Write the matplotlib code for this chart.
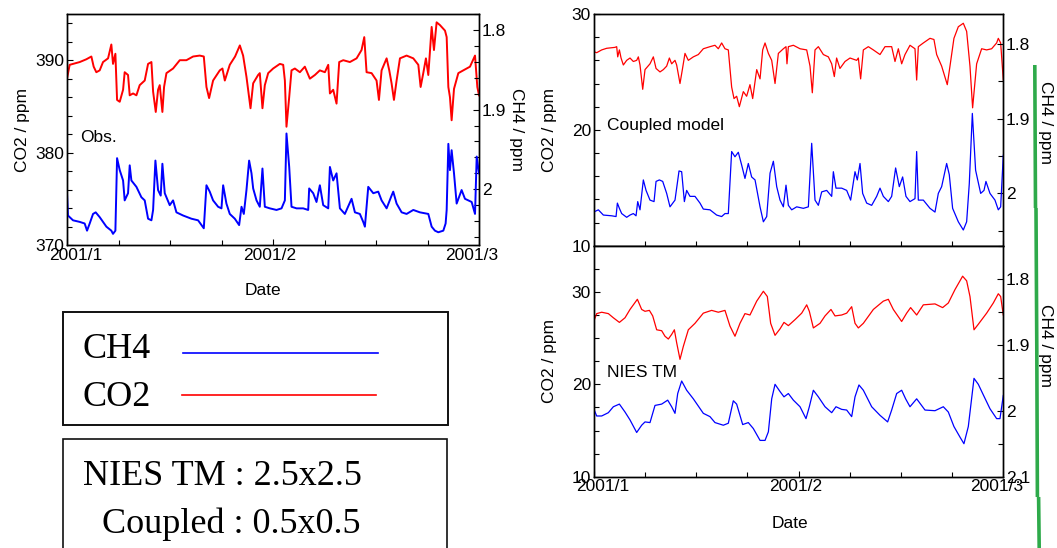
import matplotlib
matplotlib.use("Agg")
import matplotlib.pyplot as plt
import numpy as np
from matplotlib.lines import Line2D
from matplotlib.patches import Rectangle
from matplotlib.ticker import FixedLocator, FormatStrFormatter, MultipleLocator
from matplotlib.transforms import ScaledTranslation

plt.rcParams["font.family"] = ["Liberation Sans", "DejaVu Sans"]

# days since 2001/1/1 (axis runs 0..59)
obs_co2_day = [0.0, 0.38, 1.82, 2.77, 3.49, 3.82, 4.20, 4.68, 5.16, 5.88,
               6.35, 6.59, 6.93, 7.17, 7.55, 8.03, 8.26, 8.74, 8.98, 9.46,
               9.94, 10.41, 11.13, 11.61, 12.09, 12.33, 12.71, 13.04, 13.28, 13.66,
               13.90, 14.24, 15.19, 16.15, 17.10, 18.06, 19.01, 19.59, 19.97, 20.35,
               20.92, 21.88, 22.26, 22.60, 23.31, 24.07, 24.75, 25.22, 25.70, 26.28,
               26.66, 27.37, 27.61, 27.99, 28.33, 28.81, 29.52, 30.48, 30.96, 31.20,
               31.43, 31.82, 32.15, 32.63, 33.35, 34.06, 34.78, 35.50, 36.21, 36.93,
               37.41, 37.65, 38.12, 38.60, 38.98, 39.56, 40.51, 41.47, 42.18, 42.57,
               42.90, 43.62, 44.33, 44.67, 45.05, 45.77, 46.15, 46.48, 46.82, 47.20,
               47.68, 48.63, 49.59, 50.31, 50.64, 51.02, 51.40, 51.74, 52.22, 52.55,
               52.93, 53.41, 54.13, 54.37, 54.61, 54.84, 55.08, 55.42, 56.04, 56.75,
               57.71, 58.43, 58.76, 59.0]
obs_co2 = [388.0, 389.5, 389.8, 390.1, 390.4, 389.3, 388.7, 388.9, 389.8, 390.2,
           391.7, 389.6, 390.7, 385.7, 385.5, 386.8, 388.7, 388.4, 386.2, 386.4,
           386.2, 387.3, 387.8, 389.6, 389.8, 386.6, 384.4, 386.8, 387.3, 384.4,
           387.1, 388.6, 389.1, 390.0, 390.0, 390.4, 390.5, 390.4, 387.1, 385.9,
           387.8, 388.9, 389.1, 387.8, 389.5, 390.4, 391.6, 390.5, 388.2, 384.8,
           387.5, 388.4, 388.6, 384.8, 387.3, 388.6, 389.1, 389.6, 389.5, 387.8,
           382.8, 386.0, 388.9, 389.1, 388.7, 389.3, 388.0, 388.4, 388.9, 388.7,
           389.5, 386.4, 386.8, 385.3, 389.8, 390.0, 389.8, 390.2, 391.1, 392.5,
           388.7, 388.6, 387.8, 385.7, 388.9, 390.2, 388.9, 387.5, 385.7, 387.8,
           390.2, 390.5, 390.2, 389.5, 387.1, 388.6, 390.2, 388.4, 393.6, 391.1,
           394.1, 393.8, 393.2, 392.5, 387.1, 386.0, 383.5, 386.9, 388.6, 388.9,
           389.3, 390.5, 387.1, 386.2]

obs_ch4_day = [0.0, 0.14, 0.86, 1.82, 2.53, 2.87, 3.25, 3.73, 4.11, 4.68,
               5.64, 6.35, 6.59, 6.93, 7.17, 7.55, 8.03, 8.26, 8.74, 8.98,
               9.22, 9.94, 10.65, 11.13, 11.61, 12.09, 12.33, 12.66, 13.04, 13.42,
               13.66, 14.00, 14.71, 15.19, 15.67, 16.63, 17.82, 18.77, 19.59, 19.97,
               20.44, 20.92, 21.64, 22.12, 22.36, 22.83, 23.31, 24.03, 24.65, 24.99,
               25.32, 25.70, 26.08, 26.42, 26.66, 27.14, 27.61, 27.99, 28.33, 29.05,
               30.00, 30.72, 31.20, 31.43, 31.82, 32.15, 32.87, 33.82, 34.54, 34.68,
               35.26, 35.73, 36.21, 36.69, 37.41, 37.65, 38.12, 38.60, 39.08, 39.79,
               40.75, 41.23, 41.94, 42.42, 42.66, 43.14, 43.86, 44.57, 45.05, 45.77,
               46.48, 46.72, 47.20, 47.92, 48.63, 49.59, 50.54, 51.74, 52.22, 52.69,
               53.17, 53.89, 54.22, 54.37, 54.61, 54.84, 55.08, 55.42, 55.80, 56.51,
               56.99, 57.95, 58.43, 58.67, 59.0]
obs_ch4 = [2.005, 2.033, 2.039, 2.041, 2.043, 2.052, 2.043, 2.031, 2.029, 2.035,
           2.047, 2.052, 2.056, 2.052, 1.961, 1.976, 1.989, 2.014, 2.005, 1.970,
           1.989, 1.997, 2.010, 2.014, 2.037, 2.039, 2.026, 1.964, 2.001, 2.008,
           1.968, 2.005, 2.020, 2.014, 2.029, 2.033, 2.037, 2.039, 2.049, 1.995,
           2.003, 2.014, 2.022, 2.024, 1.995, 2.018, 2.031, 2.037, 2.045, 2.022,
           2.031, 2.001, 1.964, 1.980, 1.999, 2.014, 2.022, 1.974, 2.022, 2.024,
           2.026, 2.024, 2.014, 1.930, 1.972, 2.022, 2.024, 2.024, 2.026, 1.999,
           2.005, 2.016, 1.995, 2.020, 2.024, 1.972, 1.989, 1.980, 2.024, 2.031,
           2.012, 2.029, 2.031, 2.041, 2.047, 1.997, 2.005, 2.003, 2.014, 2.024,
           2.008, 2.003, 2.018, 2.029, 2.031, 2.026, 2.029, 2.031, 2.047, 2.052,
           2.054, 2.052, 2.043, 2.026, 1.943, 1.976, 1.951, 1.980, 2.018, 2.001,
           2.012, 2.016, 2.031, 1.959, 1.980]

cpl_co2_day = [0.0, 0.43, 1.15, 1.87, 3.07, 3.31, 3.46, 3.70, 3.94, 4.27,
               4.75, 5.23, 5.71, 6.19, 6.43, 6.67, 7.06, 7.39, 8.11, 8.59,
               8.98, 9.55, 10.03, 10.51, 10.90, 11.23, 11.71, 11.95, 12.43, 12.77,
               13.15, 13.63, 14.35, 15.07, 15.79, 16.75, 17.47, 17.95, 18.43, 18.91,
               19.39, 19.87, 20.21, 20.59, 20.98, 21.55, 22.03, 22.51, 22.90, 23.48,
               23.96, 24.34, 24.68, 25.16, 25.64, 26.12, 26.60, 27.32, 27.70, 27.84,
               28.04, 28.76, 29.72, 30.68, 31.16, 31.49, 31.88, 32.36, 33.08, 33.80,
               34.28, 34.66, 34.99, 35.47, 36.20, 36.92, 37.88, 38.12, 38.45, 38.84,
               39.56, 40.28, 41.24, 41.96, 42.92, 43.40, 43.88, 44.36, 44.84, 45.56,
               46.28, 46.52, 46.76, 47.48, 48.44, 49.01, 49.40, 50.12, 50.93, 51.32,
               51.89, 52.52, 53.24, 53.72, 54.20, 54.58, 55.16, 55.88, 56.60, 57.32,
               58.04, 58.28, 58.62, 59.0]
cpl_co2 = [26.75, 26.66, 26.9, 27.04, 27.12, 27.18, 26.3, 26.9, 26.2, 25.6,
           26.0, 26.2, 25.9, 26.0, 26.3, 25.6, 23.5, 25.2, 25.7, 26.3,
           25.3, 25.0, 25.2, 25.5, 26.2, 25.7, 26.0, 25.6, 24.0, 25.2,
           26.6, 26.0, 26.3, 26.5, 27.0, 27.18, 27.3, 27.0, 27.5, 27.0,
           26.9, 23.7, 22.7, 22.9, 22.0, 23.3, 22.9, 23.9, 22.7, 25.2,
           24.4, 26.9, 27.5, 26.6, 26.0, 24.0, 26.6, 27.0, 27.18, 25.7,
           27.18, 27.3, 27.0, 26.9, 25.5, 23.2, 26.9, 27.18, 26.5, 26.3,
           25.7, 24.6, 26.2, 25.3, 25.9, 26.2, 26.0, 26.2, 24.4, 26.9,
           27.18, 26.9, 26.5, 27.18, 27.18, 25.9, 27.0, 25.7, 26.5, 27.3,
           27.0, 24.3, 27.18, 27.5, 27.9, 27.8, 26.5, 25.5, 23.9, 25.5,
           27.9, 28.9, 29.2, 28.5, 25.5, 21.9, 25.7, 27.0, 26.9, 27.0,
           27.5, 27.9, 27.5, 24.3]

cpl_ch4_day = [0.0, 0.67, 1.39, 2.59, 3.22, 3.41, 3.70, 4.03, 4.75, 5.23,
               5.71, 6.10, 6.34, 6.67, 7.15, 7.54, 8.11, 8.69, 8.98, 9.46,
               9.94, 10.51, 10.99, 11.71, 12.29, 12.67, 13.06, 13.39, 13.87, 14.59,
               15.31, 15.79, 16.75, 17.71, 18.43, 18.91, 19.39, 19.87, 20.35, 20.83,
               21.31, 21.79, 22.27, 22.75, 23.24, 23.96, 24.44, 24.92, 25.40, 25.88,
               26.36, 26.84, 27.32, 27.70, 28.04, 28.52, 29.24, 30.20, 30.92, 31.40,
               31.88, 32.36, 32.84, 33.56, 34.28, 34.52, 34.90, 35.72, 36.44, 37.01,
               37.64, 37.97, 38.36, 38.74, 39.32, 40.04, 40.76, 41.24, 41.72, 42.44,
               42.92, 43.49, 44.02, 44.50, 44.98, 45.56, 46.28, 46.52, 46.76, 47.48,
               48.44, 49.16, 49.64, 50.12, 50.84, 51.22, 51.70, 52.52, 53.24, 53.72,
               54.10, 54.54, 55.01, 55.74, 56.22, 56.50, 57.08, 57.80, 58.28, 58.62,
               59.0]
cpl_ch4 = [2.025, 2.022, 2.029, 2.030, 2.031, 2.013, 2.020, 2.027, 2.032, 2.029,
           2.027, 2.030, 2.011, 2.022, 1.982, 1.996, 2.009, 2.011, 1.984, 1.982,
           1.984, 2.000, 2.018, 2.009, 1.970, 1.971, 2.011, 1.996, 2.004, 2.004,
           2.013, 2.021, 2.022, 2.029, 2.031, 2.027, 2.027, 1.944, 1.951, 1.945,
           1.962, 1.980, 1.960, 1.978, 1.982, 2.018, 2.038, 2.031, 1.973, 1.957,
           1.991, 2.009, 2.018, 1.989, 2.016, 2.022, 2.018, 2.020, 2.018, 1.933,
           2.009, 2.016, 1.998, 1.996, 2.004, 1.971, 1.993, 1.993, 1.996, 2.009,
           1.971, 1.982, 1.960, 2.000, 2.013, 2.016, 2.004, 1.993, 2.004, 2.011,
           2.004, 1.966, 1.991, 1.978, 2.004, 2.011, 2.007, 1.944, 2.009, 2.009,
           2.020, 2.025, 2.000, 1.991, 1.960, 1.975, 2.020, 2.038, 2.049, 2.038,
           1.987, 1.893, 1.969, 2.000, 1.996, 1.984, 2.000, 2.009, 2.022, 2.018,
           1.949]

nies_co2_day = [0.0, 0.43, 1.15, 2.11, 2.83, 3.70, 4.51, 5.23, 6.29, 6.91,
                7.39, 8.02, 8.50, 9.07, 9.79, 10.27, 10.75, 11.23, 11.62, 11.95,
                12.43, 12.91, 13.63, 14.59, 15.79, 16.99, 17.95, 18.91, 19.63, 20.35,
                21.07, 21.79, 22.51, 23.48, 24.44, 25.01, 25.49, 26.12, 26.84, 27.41,
                28.04, 29.00, 29.96, 30.68, 31.06, 31.64, 32.60, 33.32, 34.18, 34.76,
                35.72, 36.44, 37.16, 37.64, 38.12, 38.84, 40.28, 41.72, 42.44, 43.16,
                44.36, 45.08, 45.65, 46.52, 47.48, 49.16, 50.26, 51.08, 52.04, 53.14,
                53.72, 54.20, 54.78, 55.40, 56.60, 57.56, 58.28, 58.62, 59.0]
nies_co2 = [26.8, 27.65, 27.8, 27.65, 27.2, 26.7, 27.2, 28.1, 29.2, 28.1,
            27.9, 28.0, 27.4, 25.9, 25.8, 25.2, 24.9, 25.4, 25.9, 24.5,
            22.7, 24.1, 25.9, 26.6, 27.7, 28.0, 27.8, 28.0, 26.3, 25.2,
            26.6, 27.65, 27.5, 29.0, 30.07, 29.5, 26.6, 25.3, 26.0, 26.7,
            26.35, 27.0, 27.7, 28.6, 27.9, 26.1, 26.6, 27.4, 28.1, 27.4,
            27.5, 27.7, 28.4, 26.6, 26.1, 26.6, 28.1, 29.0, 29.2, 28.1,
            26.8, 27.7, 28.3, 27.5, 28.6, 28.7, 28.3, 28.8, 30.25, 31.7,
            31.2, 29.5, 25.9, 26.5, 27.7, 28.8, 29.8, 29.5, 27.5]

nies_ch4_day = [0.0, 0.43, 1.15, 2.11, 2.83, 3.70, 4.51, 5.23, 6.19, 6.91,
                7.39, 8.11, 8.83, 9.79, 10.66, 11.23, 11.71, 12.10, 12.67, 13.39,
                14.35, 15.79, 16.75, 17.47, 18.67, 19.39, 20.11, 20.59, 21.46, 22.27,
                22.99, 23.96, 24.68, 25.16, 25.64, 26.12, 26.84, 27.41, 28.04, 28.76,
                29.72, 30.58, 31.06, 31.64, 32.36, 33.32, 34.28, 34.90, 35.72, 36.44,
                37.16, 37.64, 38.21, 38.84, 40.04, 41.24, 42.34, 42.92, 43.64, 44.36,
                44.93, 45.56, 46.52, 47.72, 49.16, 50.36, 51.08, 51.89, 52.76, 53.33,
                53.96, 54.78, 55.40, 56.12, 57.08, 58.04, 58.52, 59.0]
nies_ch4 = [1.997, 2.008, 2.008, 2.003, 1.994, 1.990, 2.002, 2.014, 2.033, 2.022,
            2.017, 2.018, 1.992, 1.990, 1.984, 1.994, 2.004, 1.974, 1.955, 1.969,
            1.982, 2.004, 2.009, 2.018, 2.022, 2.019, 1.985, 1.990, 2.021, 2.018,
            2.027, 2.045, 2.045, 2.032, 1.982, 1.960, 1.971, 1.979, 1.974, 1.984,
            1.994, 2.012, 1.994, 1.969, 1.979, 1.994, 2.003, 1.994, 1.998, 1.999,
            2.009, 1.979, 1.961, 1.969, 1.994, 2.007, 2.017, 1.999, 1.974, 1.969,
            1.982, 1.994, 1.982, 1.999, 2.000, 1.994, 2.002, 2.024, 2.040, 2.050,
            2.024, 1.951, 1.960, 1.976, 1.997, 2.012, 2.012, 1.977]

date_labels = ["2001/1", "2001/2", "2001/3"]
date_ticks = [0, 29.5, 59]

W, H = 1057, 548
FS = 12.5
RED, BLUE = "#ff0000", "#0000ff"

fig = plt.figure(figsize=(W / 100, H / 100), dpi=100)


def px_axes(left, top, right, bottom):
    return fig.add_axes([left / W, 1 - bottom / H, (right - left) / W, (bottom - top) / H])


def panel(rect, co2_x, co2, ch4_x, ch4, co2_lim, co2_minor, ch4_lim, ch4_minor,
          name, name_y, dates=True, lw=0.9):
    ax = px_axes(*rect)
    ax2 = ax.twinx()
    ax.plot(co2_x, co2, color=RED, lw=lw)
    ax2.plot(ch4_x, ch4, color=BLUE, lw=lw)

    ax.set_xlim(0, 59)
    ax.set_ylim(*co2_lim)
    ax2.set_ylim(*ch4_lim)
    ax.xaxis.set_major_locator(FixedLocator(date_ticks))
    ax.xaxis.set_minor_locator(FixedLocator(np.linspace(0, 59, 9)))
    ax.yaxis.set_major_locator(MultipleLocator(10))
    ax.yaxis.set_minor_locator(MultipleLocator(co2_minor))
    ax2.yaxis.set_major_locator(MultipleLocator(0.1))
    ax2.yaxis.set_minor_locator(MultipleLocator(ch4_minor))
    ax2.yaxis.set_major_formatter(FormatStrFormatter("%g"))

    for a in (ax, ax2):
        a.tick_params(which="both", direction="in", labelsize=FS, pad=2, width=0.8)
        a.tick_params(which="major", length=4.5)
        a.tick_params(which="minor", length=3.5)
        for sp in a.spines.values():
            sp.set_linewidth(1.0)
    ax.tick_params(axis="x", which="both", top=False)
    ax.tick_params(axis="y", which="both", right=False)

    ax.set_ylabel("CO2 / ppm", fontsize=FS, va="center")
    ax.yaxis.set_label_coords(-0.109, 0.5)
    ax2.set_ylabel("CH4 / ppm", fontsize=FS, rotation=270, va="center")

    if dates:
        ax.set_xticklabels(date_labels)
        shifts = [9, -3, -7]
        for lab, dx in zip(ax.get_xticklabels(), shifts):
            lab.set_transform(lab.get_transform()
                              + ScaledTranslation(dx / 100, 0, fig.dpi_scale_trans))
        ax.set_xlabel("Date", fontsize=FS)
    else:
        ax.set_xticklabels([])

    ax.text(0.033, name_y, name, transform=ax.transAxes, fontsize=FS, va="baseline")
    return ax, ax2


# observation panel
ax, ax2 = panel((67, 14, 479, 245), obs_co2_day, obs_co2, obs_ch4_day, obs_ch4,
                (370, 395), 2, (2.07, 1.78), 0.02, "Obs.", (245 - 142.5) / 231, lw=1.4)
ax2.yaxis.set_label_coords(1.09, 0.5)
ax.xaxis.set_label_coords(0.475, -0.165)

# coupled model panel
ax, ax2 = panel((593.7, 14, 1003.3, 245.7), cpl_co2_day, cpl_co2, cpl_ch4_day, cpl_ch4,
                (10, 30), 2, (2.07, 1.76), 0.05, "Coupled model",
                (245.7 - 130) / 231.7, dates=False)
ax2.yaxis.set_label_coords(1.104, 0.53)

# NIES TM panel
ax, ax2 = panel((593.7, 245.7, 1003.3, 476.7), nies_co2_day, nies_co2, nies_ch4_day,
                nies_ch4, (10, 35), 2.5, (2.1, 1.75), 0.05, "NIES TM",
                (476.7 - 377) / 231)
ax2.yaxis.set_label_coords(1.104, 0.57)
ax.xaxis.set_label_coords(0.478, -0.172)


def fx(x):
    return x / W


def fy(y):
    return 1 - y / H


# legend box
fig.add_artist(Rectangle((fx(63), fy(425)), fx(448) - fx(63), fy(312) - fy(425),
                         transform=fig.transFigure, fill=False, lw=1.4, ec="#111111"))
serif = ["Liberation Serif", "DejaVu Serif"]
fig.text(fx(83), fy(358), "CH4", family=serif, fontsize=26, va="baseline")
fig.text(fx(83), fy(406.5), "CO2", family=serif, fontsize=26, va="baseline")
fig.add_artist(Line2D([fx(183), fx(378)], [fy(353), fy(353)], transform=fig.transFigure,
                      color=BLUE, lw=1.2))
fig.add_artist(Line2D([fx(182), fx(376)], [fy(395), fy(395)], transform=fig.transFigure,
                      color=RED, lw=1.2))

# resolution box
fig.add_artist(Rectangle((fx(63), fy(560)), fx(447) - fx(63), fy(439) - fy(560),
                         transform=fig.transFigure, fill=False, lw=1.2, ec="#111111"))
fig.text(fx(83), fy(485), "NIES TM : 2.5x2.5", family=serif, fontsize=26, va="baseline")
fig.text(fx(101.5), fy(533), "Coupled : 0.5x0.5", family=serif, fontsize=26, va="baseline")

# green marker line on the right edge
green = "#2eaa4a"
for (x0, y0), (x1, y1) in [((1034.8, 65), (1035.5, 208)), ((1036.0, 208), (1036.8, 350)),
                           ((1036.8, 350), (1037.4, 497)), ((1038.6, 497), (1039.2, 548))]:
    fig.add_artist(Line2D([fx(x0), fx(x1)], [fy(y0), fy(y1)], transform=fig.transFigure,
                          color=green, lw=2.6, solid_capstyle="butt"))

fig.savefig("out.png", dpi=100, facecolor="white")
